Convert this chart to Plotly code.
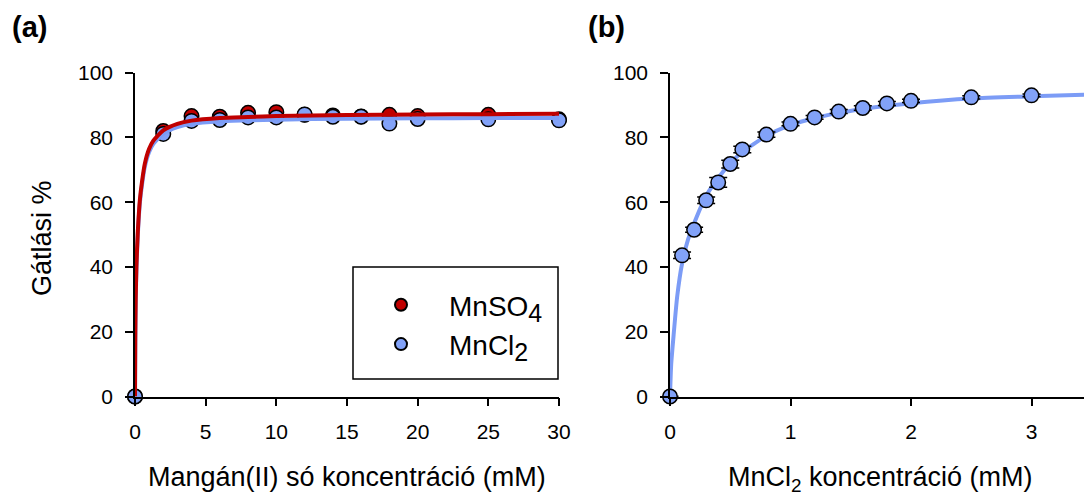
import plotly.graph_objects as go

W, H = 1092, 497
OFF = 8  # page body margin offset
FONT = "Liberation Sans, Arial, sans-serif"
RED = "#c00000"
BLUE_M = "#82a2f8"
BLUE_L = "#7c9cf6"

# ---------------- Panel (a) data ----------------
a_x = [0, 2, 4, 6, 8, 10, 12, 14, 16, 18, 20, 25, 30]
a_mnso4 = [0, 82.0, 86.6, 86.4, 87.6, 87.8, 87.0, 86.8, 86.5, 87.0, 86.6, 87.0, 85.6]
a_mncl2 = [0, 81.1, 85.1, 85.4, 86.2, 86.2, 87.1, 86.4, 86.4, 84.3, 85.7, 85.6, 85.3]

a_fit_x = [0, 0.02, 0.05, 0.1, 0.2, 0.35, 0.5, 0.7, 1.0, 1.3, 2, 3, 4, 6, 8, 10, 15, 20, 25, 30]
a_fit_mnso4 = [0, 18, 30, 40, 51, 61, 66.5, 72, 76.5, 79, 82.2, 84.2, 85.2, 86.0, 86.3, 86.6, 86.9, 87.1, 87.2, 87.3]
a_fit_mncl2 = [0, 17, 29, 39, 50, 60, 65.5, 71, 75.5, 78, 81.2, 83.2, 84.2, 85.0, 85.3, 85.5, 85.8, 85.9, 86.0, 86.0]

# ---------------- Panel (b) data ----------------
b_x = [0, 0.1, 0.2, 0.3, 0.4, 0.5, 0.6, 0.8, 1.0, 1.2, 1.4, 1.6, 1.8, 2.0, 2.5, 3.0]
b_mncl2 = [0, 43.6, 51.5, 60.6, 66.1, 71.8, 76.3, 80.9, 84.2, 86.2, 88.0, 89.1, 90.5, 91.3, 92.4, 93.0]
b_err = [0, 1.0, 0.8, 1.0, 1.5, 1.2, 1.0, 0.8, 0.6, 0.6, 0.6, 0.7, 0.6, 0.5, 0.5, 0.4]

b_fit_x = [0, 0.01, 0.03, 0.06, 0.1, 0.15, 0.2, 0.3, 0.4, 0.5, 0.6, 0.8, 1.0, 1.2, 1.4, 1.6, 1.8, 2.0, 2.5, 3.0, 3.5]
b_fit_y = [0, 10, 19, 31, 41, 48.5, 53.5, 62, 67.5, 72, 75.5, 80.5, 83.8, 86.0, 87.6, 88.8, 89.8, 90.6, 92.0, 92.7, 93.3]

a_xticks = [0, 5, 10, 15, 20, 25, 30]
b_xticks = [0, 1, 2, 3]
yticks = [0, 20, 40, 60, 80, 100]


def px(x):
    return (x - OFF) / W


def py(y):
    return 1 - (y - OFF) / H


marker_a_red = dict(size=14.5, color=RED, line=dict(color="black", width=1.5))
marker_blue = dict(size=14.5, color=BLUE_M, line=dict(color="black", width=1.5))

fig = go.Figure()

# panel a
fig.add_trace(go.Scatter(x=a_x, y=a_mnso4, mode="markers", marker=marker_a_red,
                         name='MnSO<sub><span style="font-size:25px">4</span></sub>',
                         legendgroup="g1", cliponaxis=False, xaxis="x", yaxis="y"))
fig.add_trace(go.Scatter(x=a_x, y=a_mncl2, mode="markers", marker=marker_blue,
                         name='MnCl<sub><span style="font-size:25px">2</span></sub>',
                         legendgroup="g2", cliponaxis=False, xaxis="x", yaxis="y"))
fig.add_trace(go.Scatter(x=a_fit_x, y=a_fit_mncl2, mode="lines",
                         line=dict(color=BLUE_L, width=4, shape="spline", smoothing=0.6),
                         showlegend=False, hoverinfo="skip", xaxis="x", yaxis="y"))
fig.add_trace(go.Scatter(x=a_fit_x, y=a_fit_mnso4, mode="lines",
                         line=dict(color=RED, width=4, shape="spline", smoothing=0.6),
                         showlegend=False, hoverinfo="skip", xaxis="x", yaxis="y"))

# panel b
fig.add_trace(go.Scatter(x=b_fit_x, y=b_fit_y, mode="lines",
                         line=dict(color=BLUE_L, width=4, shape="spline", smoothing=0.6),
                         showlegend=False, hoverinfo="skip", xaxis="x2", yaxis="y2"))
fig.add_trace(go.Scatter(x=b_x, y=b_mncl2, mode="markers", marker=marker_blue,
                         error_y=dict(type="data", array=b_err, visible=True, color="black",
                                      thickness=1.5, width=9),
                         showlegend=False, cliponaxis=False, xaxis="x2", yaxis="y2"))

ydom = [py(396.5), py(72.7)]
axis_common = dict(showline=True, linecolor="black", linewidth=1.5, ticks="outside", ticklen=8,
                   tickwidth=1.5, tickcolor="black", showgrid=False, zeroline=False,
                   automargin=False,
                   tickfont=dict(family=FONT, size=21, color="black"))

fig.update_layout(
    width=W, height=H, autosize=False,
    margin=dict(l=0, r=0, t=0, b=0, pad=0, autoexpand=False),
    paper_bgcolor="white", plot_bgcolor="white",
    font=dict(family=FONT, color="black"),
    xaxis=dict(domain=[px(135), px(559)], range=[0, 30], tickvals=a_xticks, anchor="y",
               ticklabelstandoff=8, **axis_common),
    yaxis=dict(domain=ydom, range=[0, 100], tickvals=yticks, anchor="x",
               ticklabelstandoff=8, **axis_common),
    xaxis2=dict(domain=[px(670), 1.0], range=[0, (W + OFF - 670) / 120.5], tickvals=b_xticks, anchor="y2",
                ticklabelstandoff=8, **axis_common),
    yaxis2=dict(domain=ydom, range=[0, 100], tickvals=yticks, anchor="x2",
                ticklabelstandoff=8, **axis_common),
    legend=dict(x=px(353), xanchor="left", y=py(280), yanchor="top",
                borderwidth=0, bgcolor="rgba(0,0,0,0)",
                font=dict(family=FONT, size=28, color="black"),
                itemwidth=86, itemsizing="constant",
                traceorder="grouped", tracegroupgap=0),
    showlegend=True,
)

# legend frame
fig.add_shape(type="rect", xref="paper", yref="paper",
              x0=px(353), x1=px(558), y0=py(379), y1=py(267),
              line=dict(color="black", width=1.5), fillcolor="white", layer="below")

ann = []
ann.append(dict(text="<b>(a)</b>", x=px(29), y=py(27), xref="paper", yref="paper",
                xanchor="center", yanchor="middle",
                showarrow=False, font=dict(family=FONT, size=29, color="black")))
ann.append(dict(text="<b>(b)</b>", x=px(606), y=py(27), xref="paper", yref="paper",
                xanchor="center", yanchor="middle",
                showarrow=False, font=dict(family=FONT, size=29, color="black")))
ann.append(dict(text="Gátlási %", x=px(42), y=py(238), xref="paper", yref="paper", textangle=-90,
                xanchor="center", yanchor="middle",
                showarrow=False, font=dict(family=FONT, size=27, color="black")))
ann.append(dict(text="Mangán(II) só koncentráció (mM)", x=px(347), y=py(477), xref="paper", yref="paper",
                xanchor="center", yanchor="middle",
                showarrow=False, font=dict(family=FONT, size=27, color="black")))
ann.append(dict(text="MnCl<sub>2</sub> koncentráció (mM)", x=px(880), y=py(479), xref="paper", yref="paper",
                xanchor="center", yanchor="middle",
                showarrow=False, font=dict(family=FONT, size=27, color="black")))
fig.update_layout(annotations=ann)

fig.write_html("out.html")
